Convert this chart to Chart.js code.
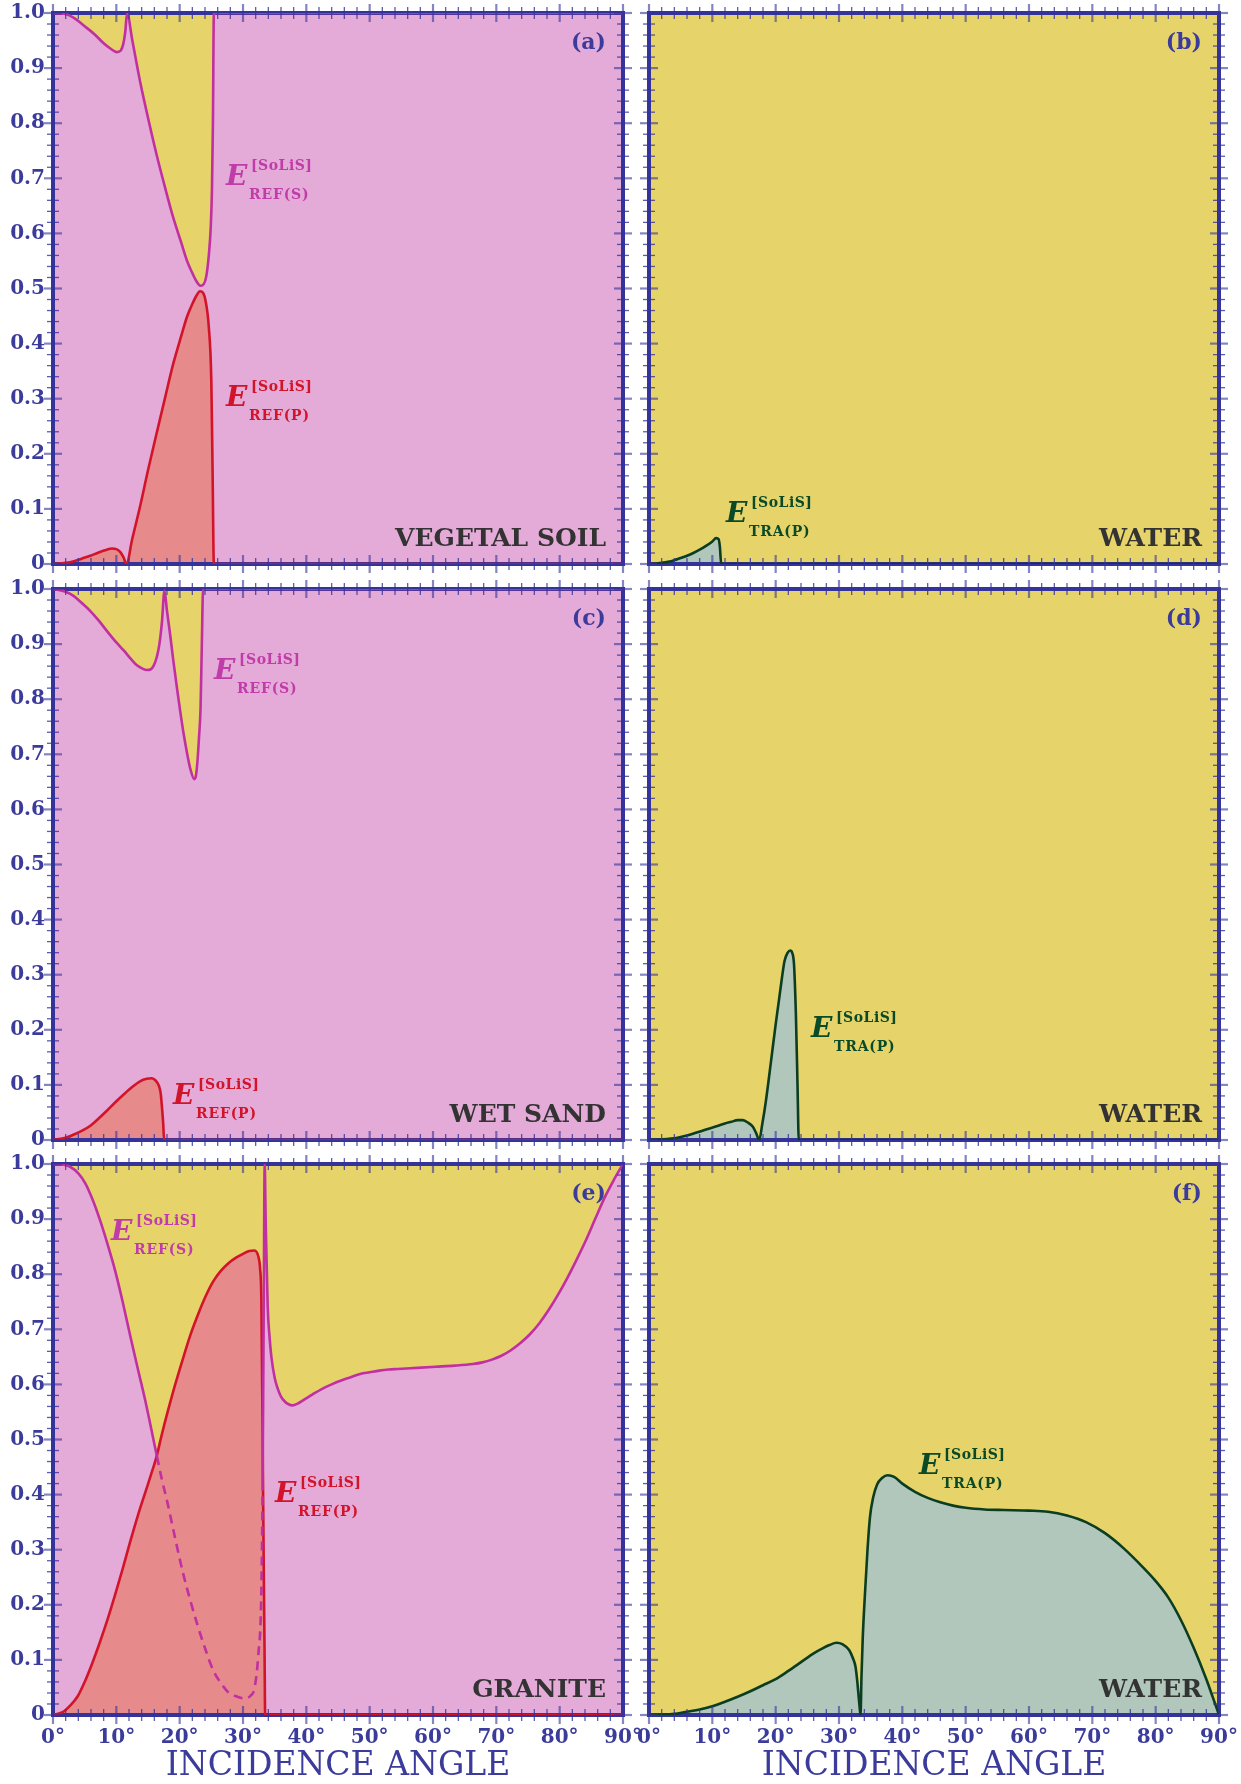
<!DOCTYPE html>
<html lang="en">
<head>
<meta charset="UTF-8">
<title>SoLiS energy coefficients vs incidence angle</title>
<script src="https://cdn.jsdelivr.net/npm/chart.js"></script>
<style>
  body { margin: 0; background: #fff; }
  #page { position: relative; width: 1241px; height: 1784px; overflow: hidden; }
  #page canvas { position: absolute; }
  .eq { position: absolute; width: 0; height: 0; font-family: "DejaVu Serif", serif; font-weight: bold; }
  .eq span { position: absolute; white-space: nowrap; line-height: 1; }
  .eq .E { font-size: 28px; font-style: italic; left: 0; bottom: -4px; }
  .eq .sup { font-size: 14px; letter-spacing: 0.5px; left: 25px; bottom: 14px; }
  .eq .sub { font-size: 14px; letter-spacing: 0.8px; left: 23px; bottom: -15px; }
</style>
</head>
<body>
<div id="page"></div>
<script>
// ---- data (angle in degrees, energy coefficient 0..1) ----

// (a) vegetal soil
const aAngS = [0, 2, 3.3, 5, 6.5, 8, 9, 10.1, 10.7, 11.1, 11.4, 11.7, 12.5, 13.8, 15, 16.4, 17.7, 19, 20.2, 21.2, 22, 22.6, 23.3, 23.8, 24.2, 24.6, 24.9, 25.1, 25.25, 25.4, 90];
const aRefS = [1, 0.998, 0.991, 0.976, 0.962, 0.945, 0.936, 0.929, 0.932, 0.944, 0.965, 1.0, 0.952, 0.873, 0.81, 0.741, 0.683, 0.628, 0.585, 0.549, 0.528, 0.514, 0.505, 0.508, 0.522, 0.56, 0.61, 0.68, 0.8, 1.0, 1];
const aAngP = [0, 2, 3.3, 4.6, 5.9, 7.2, 8.5, 9.3, 10, 10.6, 11.1, 11.6, 12.5, 13.8, 15, 16.4, 17.7, 19, 20.2, 21.2, 22, 22.6, 23.2, 23.7, 24.1, 24.6, 25, 25.2, 25.4, 90];
const aRefP = [0, 0.002, 0.005, 0.01, 0.015, 0.021, 0.026, 0.028, 0.027, 0.022, 0.013, 0, 0.045, 0.107, 0.17, 0.239, 0.302, 0.364, 0.412, 0.45, 0.472, 0.486, 0.495, 0.492, 0.477, 0.43, 0.331, 0.166, 0, 0];

// (b) water
const bAngT = [0, 1, 2, 3, 4, 5, 6, 7, 8, 9, 10, 10.6, 11, 11.2, 11.4, 90];
const bTraP = [0, 0.0005, 0.002, 0.004, 0.007, 0.011, 0.015, 0.02, 0.026, 0.033, 0.041, 0.047, 0.045, 0.03, 0, 0];

// (c) wet sand
const cAngS = [0, 2, 3.3, 4.5, 5.9, 7.2, 8.5, 10, 11.2, 12.3, 13.3, 14.2, 14.8, 15.4, 15.9, 16.4, 16.8, 17.2, 17.6, 18, 18.5, 19, 19.6, 20.1, 20.6, 21.2, 21.7, 22.3, 22.55, 22.8, 23.05, 23.3, 23.5, 23.7, 90];
const cRefS = [1, 0.995, 0.987, 0.975, 0.96, 0.943, 0.924, 0.903, 0.888, 0.873, 0.861, 0.855, 0.853, 0.854, 0.861, 0.877, 0.9, 0.94, 0.997, 0.96, 0.917, 0.87, 0.818, 0.777, 0.739, 0.7, 0.673, 0.655, 0.66, 0.686, 0.73, 0.785, 0.9, 1, 1];
const cAngP = [0, 2, 3.3, 4.6, 5.9, 7.2, 8.5, 9.8, 11.2, 12.5, 13.8, 14.8, 15.6, 16.2, 16.7, 17.0, 17.2, 17.4, 17.55, 90];
const cRefP = [0, 0.004, 0.01, 0.017, 0.026, 0.039, 0.053, 0.068, 0.083, 0.096, 0.107, 0.111, 0.112, 0.108, 0.099, 0.085, 0.06, 0.03, 0, 0];

// (d) water
const dAngT = [0, 2, 4.5, 6, 7.4, 9, 10.4, 12, 13, 14, 14.8, 15.7, 16.4, 16.9, 17.4, 17.9, 18.4, 19.3, 20, 20.5, 21, 21.4, 21.9, 22.3, 22.6, 22.9, 23.2, 23.45, 23.65, 90];
const dTraP = [0, 0.001, 0.004, 0.008, 0.013, 0.019, 0.024, 0.03, 0.033, 0.036, 0.036, 0.031, 0.024, 0.013, 0, 0.03, 0.066, 0.146, 0.21, 0.252, 0.295, 0.325, 0.34, 0.344, 0.34, 0.318, 0.225, 0.1, 0, 0];

// (e) granite
const eAngS = [0, 1.5, 2.7, 4, 5.1, 6.2, 7.4, 8.6, 9.8, 11, 12.2, 13.4, 14.6, 15.5, 16.4, 17.2, 18.1, 19.3, 20.5, 21.7, 22.9, 24.1, 25.3, 26.5, 27.7, 28.9, 30.3, 31.2, 31.8, 32.4, 32.9, 33.1, 33.28, 33.42, 33.6, 33.9, 34.2, 34.5, 35, 35.4, 36, 36.6, 37.2, 37.8, 38.6, 39.6, 41, 42.5, 44, 45.5, 47, 48.5, 50, 51.5, 53, 54.4, 57.4, 60.4, 63.4, 66.3, 67.8, 69.3, 70.8, 72.3, 73.8, 75.3, 76.8, 78.2, 79.7, 81.2, 82.7, 84.2, 85.6, 87.1, 88.5, 90];
const eRefS = [1, 0.999, 0.995, 0.983, 0.965, 0.937, 0.899, 0.855, 0.807, 0.75, 0.688, 0.628, 0.569, 0.52, 0.47, 0.427, 0.384, 0.32, 0.259, 0.207, 0.16, 0.118, 0.081, 0.058, 0.041, 0.034, 0.03, 0.035, 0.048, 0.107, 0.226, 0.424, 0.754, 1.0, 0.886, 0.741, 0.685, 0.648, 0.612, 0.595, 0.578, 0.569, 0.564, 0.562, 0.565, 0.572, 0.582, 0.592, 0.6, 0.607, 0.613, 0.619, 0.622, 0.625, 0.627, 0.628, 0.63, 0.632, 0.634, 0.637, 0.64, 0.645, 0.652, 0.662, 0.675, 0.691, 0.711, 0.734, 0.762, 0.793, 0.827, 0.863, 0.9, 0.939, 0.97, 1.0];
const eAngP = [0, 1.5, 2.7, 3.9, 5, 6.2, 7.4, 8.6, 9.8, 11, 12.2, 13.4, 14.6, 15.5, 16.35, 17.2, 18.1, 19.3, 20.5, 21.7, 22.9, 24.1, 25.3, 26.5, 27.7, 28.9, 30, 31, 31.8, 32.4, 32.7, 32.9, 33.1, 33.25, 33.4, 33.5, 90];
const eRefP = [0, 0.005, 0.017, 0.034, 0.06, 0.094, 0.132, 0.173, 0.218, 0.265, 0.315, 0.362, 0.405, 0.437, 0.469, 0.51, 0.55, 0.6, 0.646, 0.69, 0.727, 0.76, 0.787, 0.806, 0.82, 0.83, 0.837, 0.842, 0.843, 0.833, 0.81, 0.754, 0.5, 0.3, 0.12, 0, 0];
const eHidden = [16.4, 33.1];   // part of the S curve that lies under the P fill (dashed)

// (f) water
const fAngT = [0, 2, 4, 6, 8, 10, 12, 14, 16, 18, 20, 22, 24, 26, 27.4, 28.5, 29.6, 30.6, 31.6, 32.2, 32.6, 32.85, 33.05, 33.25, 33.4, 33.55, 33.75, 34.1, 34.5, 34.9, 35.4, 36, 36.8, 37.7, 38.7, 40, 42, 44, 46, 48, 50, 53, 56, 60, 63, 66, 69, 72, 75, 78, 80, 82, 84, 86, 88, 89, 90];
const fTraP = [0, 0.0005, 0.002, 0.006, 0.01, 0.016, 0.024, 0.033, 0.043, 0.054, 0.065, 0.08, 0.096, 0.112, 0.121, 0.127, 0.131, 0.128, 0.118, 0.103, 0.088, 0.065, 0.04, 0.015, 0, 0.07, 0.14, 0.22, 0.3, 0.36, 0.395, 0.418, 0.43, 0.435, 0.432, 0.42, 0.405, 0.394, 0.386, 0.38, 0.376, 0.373, 0.372, 0.371, 0.369, 0.362, 0.35, 0.33, 0.302, 0.268, 0.243, 0.213, 0.172, 0.122, 0.065, 0.033, 0];

const xTicks = [0, 10, 20, 30, 40, 50, 60, 70, 80, 90];
const yTicks = [0, 0.1, 0.2, 0.3, 0.4, 0.5, 0.6, 0.7, 0.8, 0.9, 1.0];
const xTitle = 'INCIDENCE ANGLE';

// colours
const PINK = '#e4aad8', YEL = '#e6d46a', REDFILL = '#e68a8c', GRNFILL = '#b2c7bc';
const MAG = '#c030a0', RED = '#d2142a', GRN = '#0b3d20';
const AXIS = '#33339a', TXT = '#3b3b9b', GREY = '#333333';

const panels = [
    { key: '(a)', col: 0, row: 0, name: 'VEGETAL SOIL', sAng: aAngS, s: aRefS, pAng: aAngP, p: aRefP,
      labS: [226, 186], labP: [226, 407] },
    { key: '(b)', col: 1, row: 0, name: 'WATER', tAng: bAngT, t: bTraP, labT: [726, 523] },
    { key: '(c)', col: 0, row: 1, name: 'WET SAND', sAng: cAngS, s: cRefS, pAng: cAngP, p: cRefP,
      labS: [214, 680], labP: [173, 1105] },
    { key: '(d)', col: 1, row: 1, name: 'WATER', tAng: dAngT, t: dTraP, labT: [811, 1038] },
    { key: '(e)', col: 0, row: 2, name: 'GRANITE', sAng: eAngS, s: eRefS, pAng: eAngP, p: eRefP,
      hidden: eHidden, labS: [111, 1241], labP: [275, 1503] },
    { key: '(f)', col: 1, row: 2, name: 'WATER', tAng: fAngT, t: fTraP, labT: [919, 1475] }
];

// plot-area layout on the page
const COLS = [53, 649], ROWS = [13, 589, 1164], PW = 570, PH = 551;
const ML = 53, MT = 22, MR = 34, MB = 22, MB_LAST = 80;

const page = document.getElementById('page');

function pts(xs, ys) {
    return xs.map((x, i) => ({ x: x, y: ys[i] }));
}

// background, frame and pgfplots-like ticks on all four sides
const framePlugin = {
    id: 'frame',
    beforeDraw(chart, args, opts) {
        const { ctx, chartArea: a } = chart;
        ctx.save();
        ctx.fillStyle = opts.bg;
        ctx.fillRect(a.left, a.top, a.right - a.left, a.bottom - a.top);
        ctx.restore();
    },
    beforeDatasetsDraw(chart) {
        chart.$frameDone = false;
    },
    beforeDatasetDraw(chart, args) {
        // frame goes above the fills but under the curves
        if (chart.$frameDone || !chart.data.datasets[args.index].isLine) return;
        const { ctx, chartArea: a } = chart;
        ctx.save();
        ctx.strokeStyle = AXIS;
        ctx.lineWidth = 4;
        ctx.strokeRect(a.left, a.top, a.right - a.left, a.bottom - a.top);
        ctx.restore();
        chart.$frameDone = true;
    },
    afterDatasetsDraw(chart) {
        const { ctx, chartArea: a, scales } = chart;
        ctx.save();
        const seg = (x1, y1, x2, y2) => { ctx.beginPath(); ctx.moveTo(x1, y1); ctx.lineTo(x2, y2); ctx.stroke(); };
        const style = major => {
            ctx.strokeStyle = major ? 'rgba(51,51,154,0.6)' : 'rgba(51,51,154,0.8)';
            ctx.lineWidth = major ? 2.2 : 1.3;
            return major ? 9 : 6;
        };
        for (let i = 0; i <= 45; i++) {
            const len = style(i % 5 === 0);
            const px = scales.x.getPixelForValue(i * 2);
            seg(px, a.top - len, px, a.top + len);
            seg(px, a.bottom - len, px, a.bottom + len);
        }
        for (let i = 0; i <= 50; i++) {
            const len = style(i % 5 === 0);
            const py = scales.y.getPixelForValue(i / 50);
            seg(a.left - len, py, a.left + len, py);
            seg(a.right - len, py, a.right + len, py);
        }
        ctx.restore();
    }
};

function makePanel(p) {
    const bottomRow = p.row === 2, leftCol = p.col === 0;
    const mb = bottomRow ? MB_LAST : MB;
    const cv = document.createElement('canvas');
    const w = ML + PW + MR, h = MT + PH + mb;
    cv.width = w; cv.height = h;
    cv.style.width = w + 'px'; cv.style.height = h + 'px';
    cv.style.left = (COLS[p.col] - ML) + 'px';
    cv.style.top = (ROWS[p.row] - MT) + 'px';
    page.appendChild(cv);

    const base = { pointRadius: 0, cubicInterpolationMode: 'monotone' };
    let datasets;
    if (p.s) {
        const hidden = p.hidden;
        datasets = [
            Object.assign({}, base, {
                data: pts(p.sAng, p.s), isLine: true, order: 0, fill: false,
                borderColor: MAG, borderWidth: 2.6,
                segment: hidden ? {
                    borderDash: c => (c.p0.parsed.x >= hidden[0] && c.p1.parsed.x <= hidden[1]) ? [9, 6] : undefined
                } : undefined
            }),
            Object.assign({}, base, {
                data: pts(p.pAng, p.p), isLine: true, order: 1, fill: false,
                borderColor: RED, borderWidth: 2.6
            }),
            Object.assign({}, base, {
                data: pts(p.pAng, p.p), order: 2, fill: 'origin',
                borderWidth: 0, borderColor: 'transparent', backgroundColor: REDFILL
            }),
            Object.assign({}, base, {
                data: pts(p.sAng, p.s), order: 3, fill: 'end',
                borderWidth: 0, borderColor: 'transparent', backgroundColor: YEL
            })
        ];
    } else {
        datasets = [
            Object.assign({}, base, {
                data: pts(p.tAng, p.t), isLine: true, order: 0, fill: false,
                borderColor: GRN, borderWidth: 2.6
            }),
            Object.assign({}, base, {
                data: pts(p.tAng, p.t), order: 1, fill: 'origin',
                borderWidth: 0, borderColor: 'transparent', backgroundColor: GRNFILL
            })
        ];
    }

    const tickFont = { family: 'DejaVu Serif', size: 20, weight: 'bold' };

    new Chart(cv, {
        type: 'line',
        data: { datasets: datasets },
        options: {
            responsive: false,
            animation: false,
            events: [],
            layout: { padding: { top: MT, right: MR, left: 0, bottom: 0 } },
            plugins: {
                legend: { display: false },
                tooltip: { enabled: false },
                frame: { bg: p.s ? PINK : YEL }
            },
            scales: {
                x: {
                    type: 'linear', min: 0, max: 90,
                    grid: { display: false, drawTicks: false },
                    border: { display: false },
                    afterBuildTicks: s => { s.ticks = xTicks.map(v => ({ value: v })); },
                    ticks: {
                        display: bottomRow, autoSkip: false, maxRotation: 0,
                        color: TXT, font: tickFont, padding: 11,
                        callback: v => v + '°'
                    },
                    title: {
                        display: bottomRow, text: xTitle, color: TXT,
                        font: { family: 'DejaVu Serif', size: 33 },
                        padding: { top: 0, bottom: 9 }
                    },
                    afterFit: s => { s.height = mb; }
                },
                y: {
                    type: 'linear', min: 0, max: 1,
                    grid: { display: false, drawTicks: false },
                    border: { display: false },
                    afterBuildTicks: s => { s.ticks = yTicks.map(v => ({ value: v })); },
                    ticks: {
                        display: leftCol, autoSkip: false,
                        color: TXT, font: tickFont, padding: 8,
                        callback: v => v === 0 ? '0' : v.toFixed(1)
                    },
                    afterFit: s => { s.width = ML; }
                }
            }
        },
        plugins: [framePlugin]
    });
}

// text helpers: x = left (or right) edge, b = baseline, in page pixels
function addText(x, b, text, size, color, alignRight) {
    const box = document.createElement('div');
    box.className = 'eq';
    box.style.left = x + 'px';
    box.style.top = b + 'px';
    const s = document.createElement('span');
    s.textContent = text;
    s.style.fontSize = size + 'px';
    s.style.color = color;
    s.style.bottom = (-0.154 * size) + 'px';
    if (alignRight) s.style.right = '0px'; else s.style.left = '0px';
    box.appendChild(s);
    page.appendChild(box);
}

function addSymbol(pos, sub, color) {
    const box = document.createElement('div');
    box.className = 'eq';
    box.style.left = pos[0] + 'px';
    box.style.top = pos[1] + 'px';
    box.style.color = color;
    box.innerHTML = '<span class="E">E</span><span class="sup">[SoLiS]</span><span class="sub">' + sub + '</span>';
    page.appendChild(box);
}

panels.forEach(p => {
    makePanel(p);
    const right = COLS[p.col] + PW;
    const top = ROWS[p.row], bottom = ROWS[p.row] + PH;
    addText(right - 17, top + 36, p.key, 22, TXT, true);
    addText(right - 17, bottom - 18, p.name, 25, GREY, true);
    if (p.s) {
        addSymbol(p.labS, 'REF(S)', '#c03ca8');
        addSymbol(p.labP, 'REF(P)', RED);
    } else {
        addSymbol(p.labT, 'TRA(P)', '#0b4a26');
    }
});
</script>
</body>
</html>
